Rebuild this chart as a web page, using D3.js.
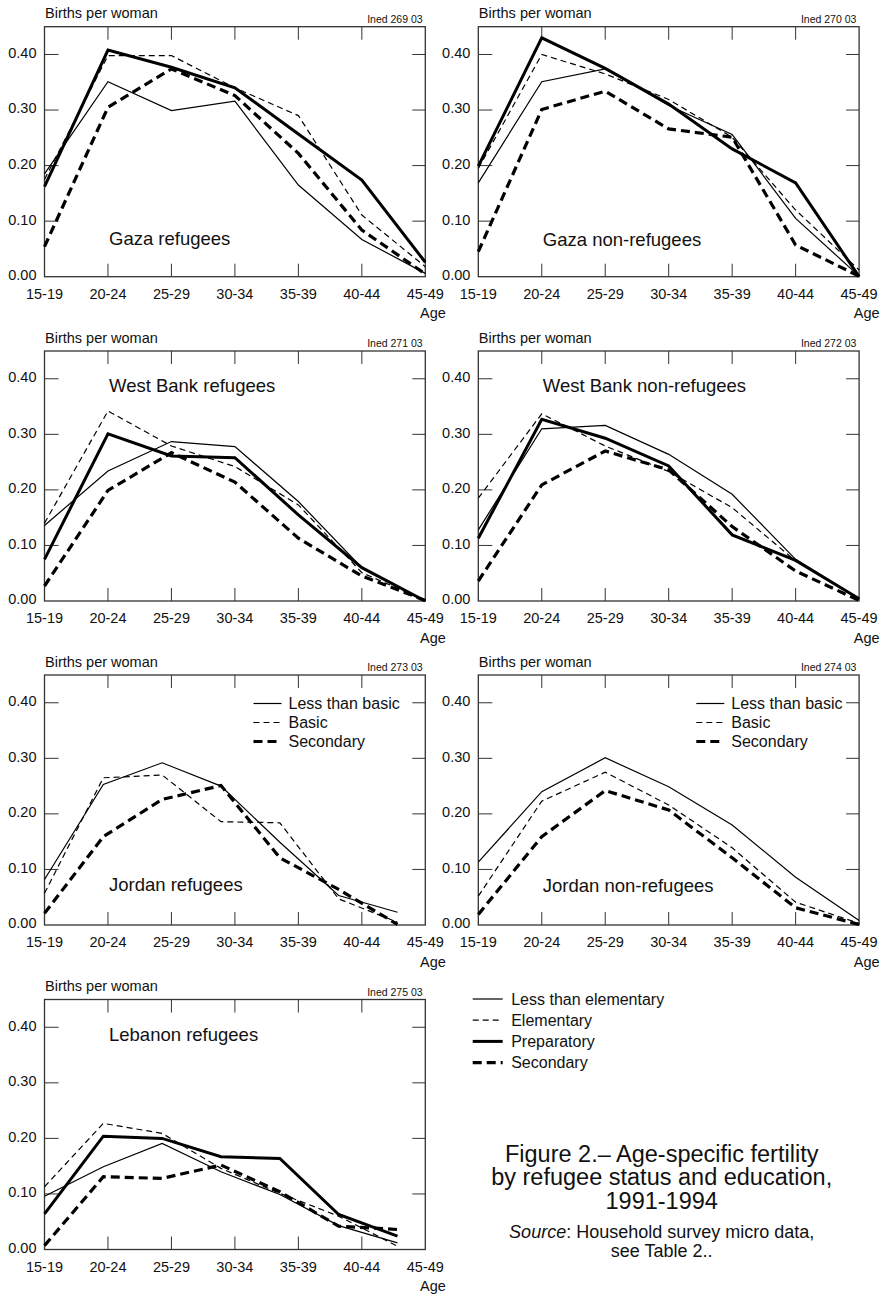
<!DOCTYPE html>
<html lang="en">
<head>
   <meta charset="utf-8">
   <title>Age-specific fertility</title>
   <style type="text/css">
       body{
           margin: 0;
           background: white;
           font-family: "Liberation Sans", Arial, Helvetica, sans-serif;
       }
       .frame{
           fill: none;
           stroke: #333;
           stroke-width: 1.3px;
       }
       .tick{
           stroke: #333;
           stroke-width: 1px;
       }
       .tick-label{
           font-size: 14.5px;
           fill: #111;
       }
       .unit-label{
           font-size: 14.5px;
           fill: #111;
       }
       .code-label{
           font-size: 10.5px;
           fill: #111;
           text-anchor: end;
       }
       .panel-title{
           font-size: 18.5px;
           fill: #111;
       }
       .legend-label{
           font-size: 16px;
           fill: #111;
       }
       .caption{
           font-size: 23.5px;
           fill: #111;
           text-anchor: middle;
       }
       .source{
           font-size: 18px;
           fill: #111;
           text-anchor: middle;
       }
       .series{
           fill: none;
           stroke: black;
       }
   </style>
</head>
<body>
<script src="https://d3js.org/d3.v7.min.js" charset="utf-8"></script>
<script>
    var ages = ['15-19','20-24','25-29','30-34','35-39','40-44','45-49']
    var yTicks = [0.00, 0.10, 0.20, 0.30, 0.40]

    // Gaza refugees
    var gazaRefLessElem = [0.185, 0.351, 0.299, 0.316, 0.165, 0.067, 0.006]
    var gazaRefElem     = [0.175, 0.398, 0.398, 0.340, 0.290, 0.111, 0.018]
    var gazaRefPrep     = [0.162, 0.408, 0.377, 0.340, 0.257, 0.174, 0.026]
    var gazaRefSec      = [0.054, 0.305, 0.374, 0.326, 0.222, 0.084, 0.005]

    // Gaza non-refugees
    var gazaNonLessElem = [0.169, 0.351, 0.374, 0.308, 0.256, 0.105, 0.001]
    var gazaNonElem     = [0.195, 0.400, 0.365, 0.319, 0.251, 0.120, 0.012]
    var gazaNonPrep     = [0.199, 0.430, 0.375, 0.311, 0.230, 0.169, 0.000]
    var gazaNonSec      = [0.045, 0.301, 0.334, 0.266, 0.251, 0.057, 0.001]

    // West Bank refugees
    var wbRefLessElem = [0.136, 0.234, 0.287, 0.278, 0.179, 0.060, 0.000]
    var wbRefElem     = [0.140, 0.342, 0.279, 0.242, 0.173, 0.051, 0.001]
    var wbRefPrep     = [0.075, 0.301, 0.261, 0.258, 0.155, 0.060, 0.000]
    var wbRefSec      = [0.027, 0.199, 0.267, 0.214, 0.113, 0.045, 0.001]

    // West Bank non-refugees
    var wbNonLessElem = [0.128, 0.310, 0.316, 0.264, 0.192, 0.075, 0.004]
    var wbNonElem     = [0.185, 0.337, 0.279, 0.233, 0.168, 0.072, 0.003]
    var wbNonPrep     = [0.113, 0.327, 0.293, 0.243, 0.119, 0.073, 0.004]
    var wbNonSec      = [0.036, 0.209, 0.270, 0.236, 0.134, 0.054, 0.001]

    // Jordan refugees
    var jorRefLess  = [0.082, 0.253, 0.292, 0.250, 0.149, 0.053, 0.023]
    var jorRefBasic = [0.057, 0.265, 0.270, 0.186, 0.184, 0.047, 0.005]
    var jorRefSec   = [0.021, 0.159, 0.226, 0.251, 0.121, 0.064, 0.001]

    // Jordan non-refugees
    var jorNonLess  = [0.113, 0.240, 0.301, 0.249, 0.180, 0.086, 0.008]
    var jorNonBasic = [0.052, 0.223, 0.275, 0.216, 0.139, 0.041, 0.003]
    var jorNonSec   = [0.019, 0.159, 0.242, 0.207, 0.121, 0.031, 0.001]

    // Lebanon refugees
    var lebLessElem = [0.096, 0.149, 0.191, 0.140, 0.099, 0.043, 0.012]
    var lebElem     = [0.113, 0.227, 0.209, 0.146, 0.101, 0.060, 0.006]
    var lebPrep     = [0.064, 0.204, 0.200, 0.167, 0.164, 0.063, 0.024]
    var lebSec      = [0.007, 0.131, 0.128, 0.152, 0.104, 0.042, 0.036]

    var styles = {
        thin:       {width: 1.2, dash: null},
        thinDash:   {width: 1.2, dash: '6,4'},
        thick:      {width: 3,   dash: null},
        thickDash:  {width: 3.2, dash: '9,5'}
    }

    var panels = [
        {title: 'Gaza refugees', code: 'Ined 269 03', col: 0, row: 0, titleY: 218.5, span: 1,
         series: [['thin', gazaRefLessElem], ['thinDash', gazaRefElem], ['thick', gazaRefPrep], ['thickDash', gazaRefSec]]},
        {title: 'Gaza non-refugees', code: 'Ined 270 03', col: 1, row: 0, titleY: 219, span: 1,
         series: [['thin', gazaNonLessElem], ['thinDash', gazaNonElem], ['thick', gazaNonPrep], ['thickDash', gazaNonSec]]},
        {title: 'West Bank refugees', code: 'Ined 271 03', col: 0, row: 1, titleY: 41, span: 1,
         series: [['thin', wbRefLessElem], ['thinDash', wbRefElem], ['thick', wbRefPrep], ['thickDash', wbRefSec]]},
        {title: 'West Bank non-refugees', code: 'Ined 272 03', col: 1, row: 1, titleY: 41, span: 1,
         series: [['thin', wbNonLessElem], ['thinDash', wbNonElem], ['thick', wbNonPrep], ['thickDash', wbNonSec]]},
        {title: 'Jordan refugees', code: 'Ined 273 03', col: 0, row: 2, titleY: 216, span: 0.927, legendX: 209,
         series: [['thin', jorRefLess], ['thinDash', jorRefBasic], ['thickDash', jorRefSec]]},
        {title: 'Jordan non-refugees', code: 'Ined 274 03', col: 1, row: 2, titleY: 216.5, span: 1, legendX: 218,
         series: [['thin', jorNonLess], ['thinDash', jorNonBasic], ['thickDash', jorNonSec]]},
        {title: 'Lebanon refugees', code: 'Ined 275 03', col: 0, row: 3, titleY: 41, span: 0.927,
         series: [['thin', lebLessElem], ['thinDash', lebElem], ['thick', lebPrep], ['thickDash', lebSec]]}
    ]

    var jordanLegend = [['thin', 'Less than basic'], ['thinDash', 'Basic'], ['thickDash', 'Secondary']]
    var mainLegend = [['thin', 'Less than elementary'], ['thinDash', 'Elementary'], ['thick', 'Preparatory'], ['thickDash', 'Secondary']]

    var colX = [44.5, 478.3]
    var rowY = [26.7, 351, 675, 999.5]
    var w = 380.8, h = 250

    var svg = d3.select('body')
        .append('svg')
            .attr('width', 883)
            .attr('height', 1298)

    svg.append('rect')
        .attr('width', 883)
        .attr('height', 1298)
        .attr('fill', 'white')

    var y = d3.scaleLinear().domain([0, 0.45]).range([h, 0])
    var x = d3.scalePoint().domain(ages).range([0, w])

    function styleLine(sel, key) {
        sel.attr('stroke-width', styles[key].width)
           .attr('stroke-dasharray', styles[key].dash)
    }

    panels.forEach(function(p) {
        var g = svg.append('g')
            .attr('transform', 'translate(' + colX[p.col] + ',' + rowY[p.row] + ')')

        // data positions (some panels were drawn on a slightly compressed grid)
        var xData = d3.scalePoint().domain(ages).range([0, w * p.span])

        var line = d3.line()
            .x(function(d, i) { return xData(ages[i]); })
            .y(function(d) { return y(d); })

        // inner ticks
        var inner = ages.slice(1, ages.length - 1)
        g.selectAll('line.top')
            .data(inner)
            .enter().append('line')
                .attr('class', 'tick')
                .attr('x1', function(d) { return x(d); })
                .attr('x2', function(d) { return x(d); })
                .attr('y1', 0)
                .attr('y2', 13)
        g.selectAll('line.bottom')
            .data(inner)
            .enter().append('line')
                .attr('class', 'tick')
                .attr('x1', function(d) { return x(d); })
                .attr('x2', function(d) { return x(d); })
                .attr('y1', h)
                .attr('y2', h - 13)
        g.selectAll('line.left')
            .data(yTicks.slice(1))
            .enter().append('line')
                .attr('class', 'tick')
                .attr('x1', 0)
                .attr('x2', 14)
                .attr('y1', function(d) { return y(d); })
                .attr('y2', function(d) { return y(d); })
        g.selectAll('line.right')
            .data(yTicks.slice(1))
            .enter().append('line')
                .attr('class', 'tick')
                .attr('x1', w)
                .attr('x2', w - 13)
                .attr('y1', function(d) { return y(d); })
                .attr('y2', function(d) { return y(d); })

        g.append('rect')
            .attr('class', 'frame')
            .attr('width', w)
            .attr('height', h)

        // tick labels
        g.selectAll('text.xl')
            .data(ages)
            .enter().append('text')
                .attr('class', 'tick-label')
                .attr('text-anchor', 'middle')
                .attr('x', function(d) { return x(d); })
                .attr('y', h + 22.3)
                .text(function(d) { return d; })
        g.selectAll('text.yl')
            .data(yTicks)
            .enter().append('text')
                .attr('class', 'tick-label')
                .attr('text-anchor', 'end')
                .attr('x', -8)
                .attr('y', function(d) { return y(d) + 3.4; })
                .text(function(d) { return d.toFixed(2); })

        g.append('text')
            .attr('class', 'tick-label')
            .attr('text-anchor', 'end')
            .attr('x', w + 20.5)
            .attr('y', h + 41.5)
            .text('Age')

        g.append('text')
            .attr('class', 'unit-label')
            .attr('x', 0.5)
            .attr('y', -8.4)
            .text('Births per woman')

        g.append('text')
            .attr('class', 'code-label')
            .attr('x', w - 2.7)
            .attr('y', -3.8)
            .text(p.code)

        g.append('text')
            .attr('class', 'panel-title')
            .attr('x', 64.5)
            .attr('y', p.titleY)
            .text(p.title)

        g.selectAll('path.series')
            .data(p.series)
            .enter().append('path')
                .attr('class', 'series')
                .attr('d', function(d) { return line(d[1]); })
                .each(function(d) { styleLine(d3.select(this), d[0]); })

        if (p.legendX !== undefined) {
            var lg = g.append('g')
                .attr('transform', 'translate(' + p.legendX + ',28.5)')
            jordanLegend.forEach(function(item, i) {
                lg.append('line')
                    .attr('class', 'series')
                    .attr('x1', 0).attr('x2', 28)
                    .attr('y1', i * 19).attr('y2', i * 19)
                    .call(styleLine, item[0])
                lg.append('text')
                    .attr('class', 'legend-label')
                    .attr('x', 35)
                    .attr('y', i * 19 + 5.6)
                    .text(item[1])
            })
        }
    })

    // shared legend
    var leg = svg.append('g')
        .attr('transform', 'translate(472.7,999)')
    leg.selectAll('line')
        .data(mainLegend)
        .enter().append('line')
            .attr('class', 'series')
            .attr('x1', 0).attr('x2', 30)
            .attr('y1', function(d, i) { return i * 21.2; })
            .attr('y2', function(d, i) { return i * 21.2; })
            .each(function(d) { styleLine(d3.select(this), d[0]); })
    leg.selectAll('text')
        .data(mainLegend)
        .enter().append('text')
            .attr('class', 'legend-label')
            .attr('x', 38.5)
            .attr('y', function(d, i) { return i * 21.2 + 5.6; })
            .text(function(d) { return d[1]; })

    // caption
    var captionLines = ['Figure 2.\u2013 Age-specific fertility', 'by refugee status and education,', '1991-1994']
    svg.selectAll('text.caption')
        .data(captionLines)
        .enter().append('text')
            .attr('class', 'caption')
            .attr('x', 661.7)
            .attr('y', function(d, i) { return 1161.7 + i * 23.7; })
            .text(function(d) { return d; })

    var src = svg.append('text')
        .attr('class', 'source')
        .attr('x', 661.7)
        .attr('y', 1237.7)
    src.append('tspan').attr('font-style', 'italic').text('Source')
    src.append('tspan').text(': Household survey micro data,')
    svg.append('text')
        .attr('class', 'source')
        .attr('x', 661.7)
        .attr('y', 1256.7)
        .text('see Table 2..')
</script>
</body>
</html>
